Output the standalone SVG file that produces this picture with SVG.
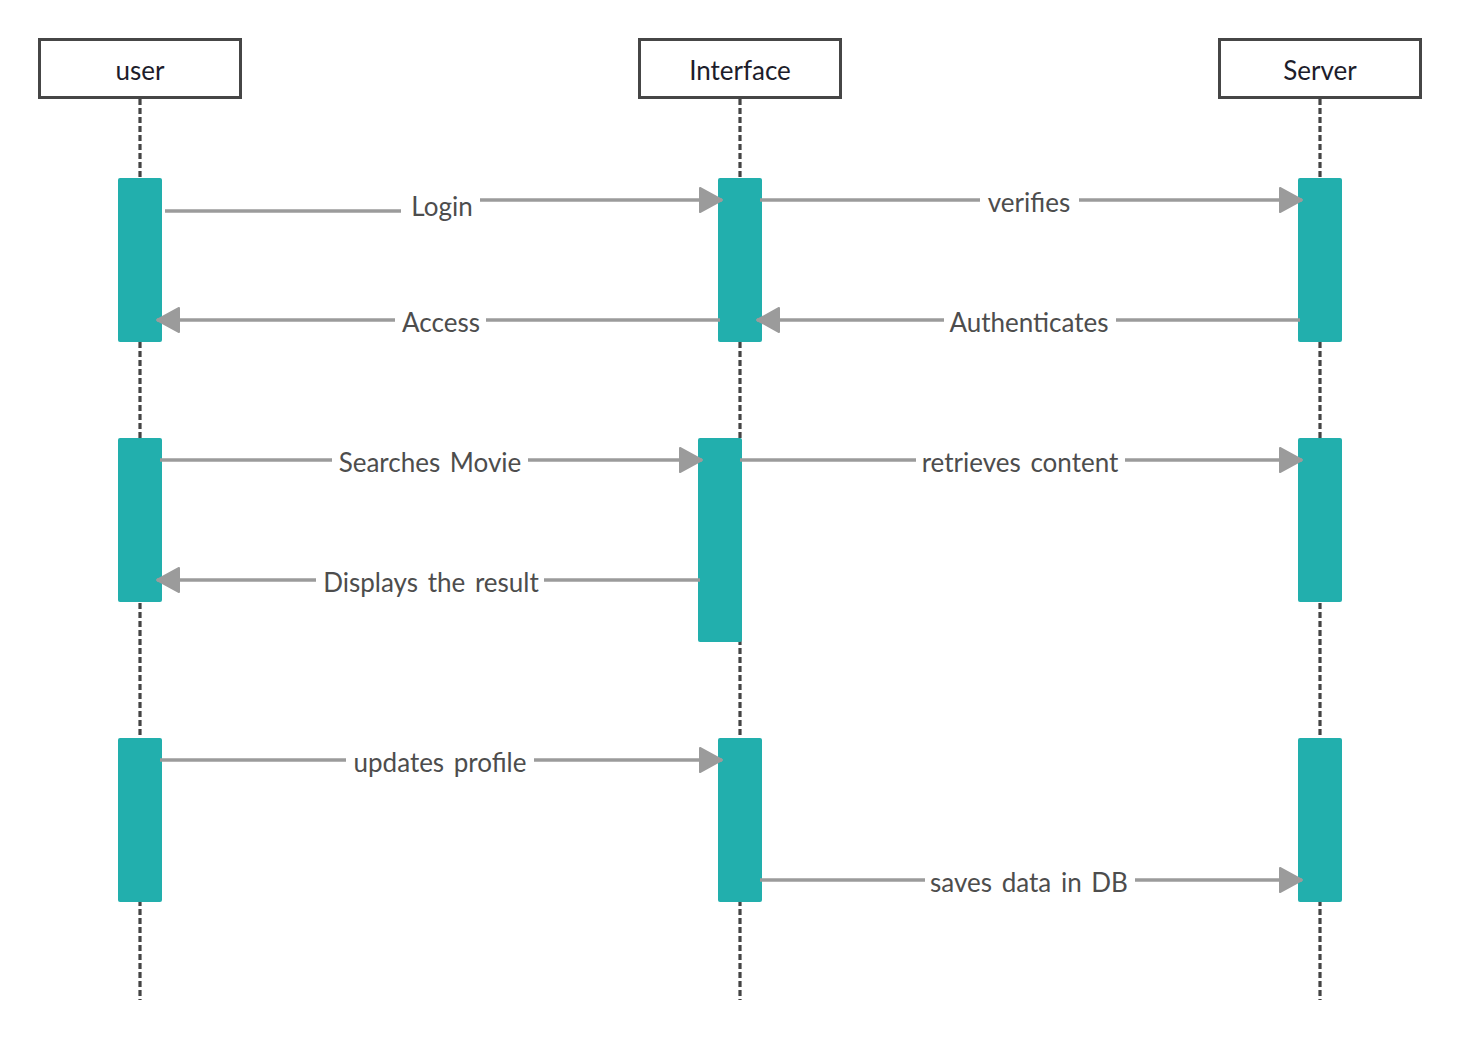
<svg xmlns="http://www.w3.org/2000/svg" width="1460" height="1040" viewBox="0 0 1460 1040">
  <style>
    .head { fill: #ffffff; stroke: #464646; stroke-width: 3; }
    .headtxt { font-family: Lato, "Liberation Sans", sans-serif; font-size: 26px; fill: #1d1d2b; text-anchor: middle; }
    .life { stroke: #444444; stroke-width: 3.2; stroke-dasharray: 6 3; fill: none; }
    .act { fill: #22AFAD; }
    .msg { stroke: #9b9b9b; stroke-width: 3.5; fill: none; }
    .lbl { font-family: Lato, "Liberation Sans", sans-serif; font-size: 26px; fill: #4d4d4d; text-anchor: middle; word-spacing: 3px; }
  </style>
  <defs>
    <marker id="arr" markerUnits="userSpaceOnUse" markerWidth="30" markerHeight="32" refX="24" refY="14" orient="auto" overflow="visible">
      <path d="M2,2 L24,14 L2,26 Z" fill="#9b9b9b" stroke="#9b9b9b" stroke-width="2" stroke-linejoin="round"/>
    </marker>
  </defs>
  <rect width="1460" height="1040" fill="#ffffff"/>

  <g id="lifelines">
    <line class="life" x1="140" y1="99" x2="140" y2="1000"/>
    <line class="life" x1="740" y1="99" x2="740" y2="1000"/>
    <line class="life" x1="1320" y1="99" x2="1320" y2="1000"/>
  </g>

  <g id="node-user">
    <rect class="head" x="39.5" y="39.5" width="201" height="58"/>
    <text class="headtxt" x="140" y="80">user</text>
  </g>
  <g id="node-interface">
    <rect class="head" x="639.5" y="39.5" width="201" height="58"/>
    <text class="headtxt" x="740" y="80">Interface</text>
  </g>
  <g id="node-server">
    <rect class="head" x="1219.5" y="39.5" width="201" height="58"/>
    <text class="headtxt" x="1320" y="80">Server</text>
  </g>

  <g id="activations">
    <rect class="act" x="118" y="178" width="44" height="164" rx="2"/>
    <rect class="act" x="718" y="178" width="44" height="164" rx="2"/>
    <rect class="act" x="1298" y="178" width="44" height="164" rx="2"/>
    <rect class="act" x="118" y="438" width="44" height="164" rx="2"/>
    <rect class="act" x="698" y="438" width="44" height="204" rx="2"/>
    <rect class="act" x="1298" y="438" width="44" height="164" rx="2"/>
    <rect class="act" x="118" y="738" width="44" height="164" rx="2"/>
    <rect class="act" x="718" y="738" width="44" height="164" rx="2"/>
    <rect class="act" x="1298" y="738" width="44" height="164" rx="2"/>
  </g>

  <g id="connectors">
    <line class="msg" x1="165" y1="211" x2="401" y2="211"/>
    <line class="msg" x1="480" y1="200" x2="722" y2="200" marker-end="url(#arr)"/>

    <line class="msg" x1="760" y1="200" x2="980" y2="200"/>
    <line class="msg" x1="1079" y1="200" x2="1302" y2="200" marker-end="url(#arr)"/>

    <line class="msg" x1="720" y1="320" x2="486" y2="320"/>
    <line class="msg" x1="395" y1="320" x2="157" y2="320" marker-end="url(#arr)"/>

    <line class="msg" x1="1300" y1="320" x2="1116" y2="320"/>
    <line class="msg" x1="944" y1="320" x2="757" y2="320" marker-end="url(#arr)"/>

    <line class="msg" x1="160" y1="460" x2="332" y2="460"/>
    <line class="msg" x1="528" y1="460" x2="702" y2="460" marker-end="url(#arr)"/>

    <line class="msg" x1="740" y1="460" x2="916" y2="460"/>
    <line class="msg" x1="1125" y1="460" x2="1302" y2="460" marker-end="url(#arr)"/>

    <line class="msg" x1="700" y1="580" x2="544" y2="580"/>
    <line class="msg" x1="316" y1="580" x2="157" y2="580" marker-end="url(#arr)"/>

    <line class="msg" x1="160" y1="760" x2="346" y2="760"/>
    <line class="msg" x1="534" y1="760" x2="722" y2="760" marker-end="url(#arr)"/>

    <line class="msg" x1="760" y1="880" x2="925" y2="880"/>
    <line class="msg" x1="1135" y1="880" x2="1302" y2="880" marker-end="url(#arr)"/>
  </g>

  <g id="labels">
    <text class="lbl" x="442" y="216">Login</text>
    <text class="lbl" x="1029" y="212">verifies</text>
    <text class="lbl" x="441" y="332">Access</text>
    <text class="lbl" x="1029" y="332">Authenticates</text>
    <text class="lbl" x="430" y="472">Searches Movie</text>
    <text class="lbl" x="1020" y="472">retrieves content</text>
    <text class="lbl" x="431" y="592">Displays the result</text>
    <text class="lbl" x="440" y="772">updates profile</text>
    <text class="lbl" x="1029" y="892">saves data in DB</text>
  </g>
</svg>
